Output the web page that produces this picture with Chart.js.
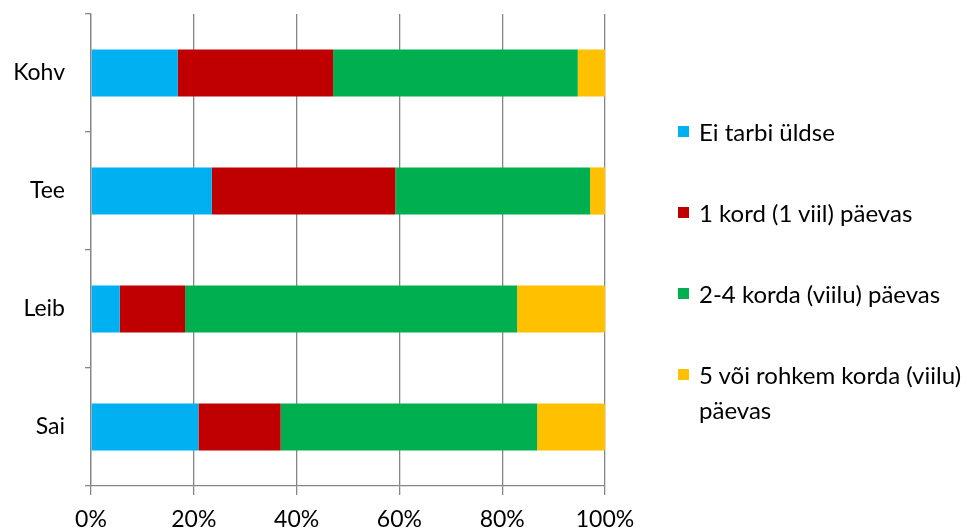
<!DOCTYPE html>
<html>
<head>
<meta charset="utf-8">
<script src="https://cdn.jsdelivr.net/npm/chart.js@4.4.1/dist/chart.umd.min.js"></script>
<style>
  html, body { margin: 0; padding: 0; background: #fff; }
  #wrap { position: relative; width: 976px; height: 532px; }
  #legend { position: absolute; left: 678px; top: 114px; width: 298px;
            font-family: Lato, "Open Sans", sans-serif; font-size: 24px; color: #000; }
  .item { position: relative; padding-left: 21px; line-height: 35px; }
  .item + .item { margin-top: 46px; }
  .box { position: absolute; left: 0; top: 12px; width: 11px; height: 11px; }
</style>
</head>
<body>
<div id="wrap">
  <canvas id="c" width="976" height="532"></canvas>
  <div id="legend"></div>
</div>
<script>
const categories = ["Kohv", "Tee", "Leib", "Sai"];
const seriesNames = [
  "Ei tarbi üldse",
  "1 kord (1 viil) päevas",
  "2-4 korda (viilu) päevas",
  "5 või rohkem korda (viilu) päevas"
];
const eiTarbi   = [16.9, 23.5, 5.6, 20.9];
const ksKord    = [30.2, 35.7, 12.7, 16.0];
const kaksNeli  = [47.6, 37.9, 64.6, 49.9];
const viisVoiRohkem = [5.3, 2.9, 17.1, 13.2];
const xTicks = [0, 20, 40, 60, 80, 100];
const colors = ["#00B0F0", "#C00000", "#00B050", "#FFC000"];

const seriesValues = [eiTarbi, ksKord, kaksNeli, viisVoiRohkem];
const FONT = "Lato, 'Open Sans', sans-serif";

const datasets = seriesNames.map((name, i) => ({
  label: name,
  data: seriesValues[i],
  backgroundColor: colors[i],
  borderWidth: 0,
  barPercentage: 0.4,
  categoryPercentage: 1.0
}));

new Chart(document.getElementById("c"), {
  type: "bar",
  data: { labels: categories, datasets },
  options: {
    indexAxis: "y",
    responsive: false,
    animation: false,
    layout: { padding: { top: 14, right: 371, left: 0, bottom: 0 } },
    plugins: { legend: { display: false }, tooltip: { enabled: false } },
    scales: {
      x: {
        stacked: true,
        min: 0, max: 100,
        afterBuildTicks: s => { s.ticks = xTicks.map(v => ({ value: v })); },
        afterFit: s => { s.height = 46; s.paddingLeft = 0; s.paddingRight = 0; },
        ticks: {
          callback: v => v + "%",
          color: "#000",
          font: { family: FONT, size: 23 },
          padding: 11,
          maxRotation: 0
        },
        grid: { color: "#868686", lineWidth: 1.3, tickLength: 9, drawTicks: true },
        border: { color: "#868686", width: 1.3 }
      },
      y: {
        stacked: true,
        afterFit: s => { s.width = 91; s.paddingTop = 0; s.paddingBottom = 0; },
        ticks: {
          color: "#000",
          font: { family: FONT, size: 23 },
          padding: 20
        },
        grid: { offset: true, drawOnChartArea: false, color: "#868686", lineWidth: 1.3, tickLength: 6 },
        border: { color: "#868686", width: 1.3 }
      }
    }
  }
});

// Legend beside the plot
const legend = document.getElementById("legend");
seriesNames.forEach((name, i) => {
  const item = document.createElement("div");
  item.className = "item";
  const box = document.createElement("span");
  box.className = "box";
  box.style.background = colors[i];
  item.appendChild(box);
  item.appendChild(document.createTextNode(name));
  legend.appendChild(item);
});
</script>
</body>
</html>
